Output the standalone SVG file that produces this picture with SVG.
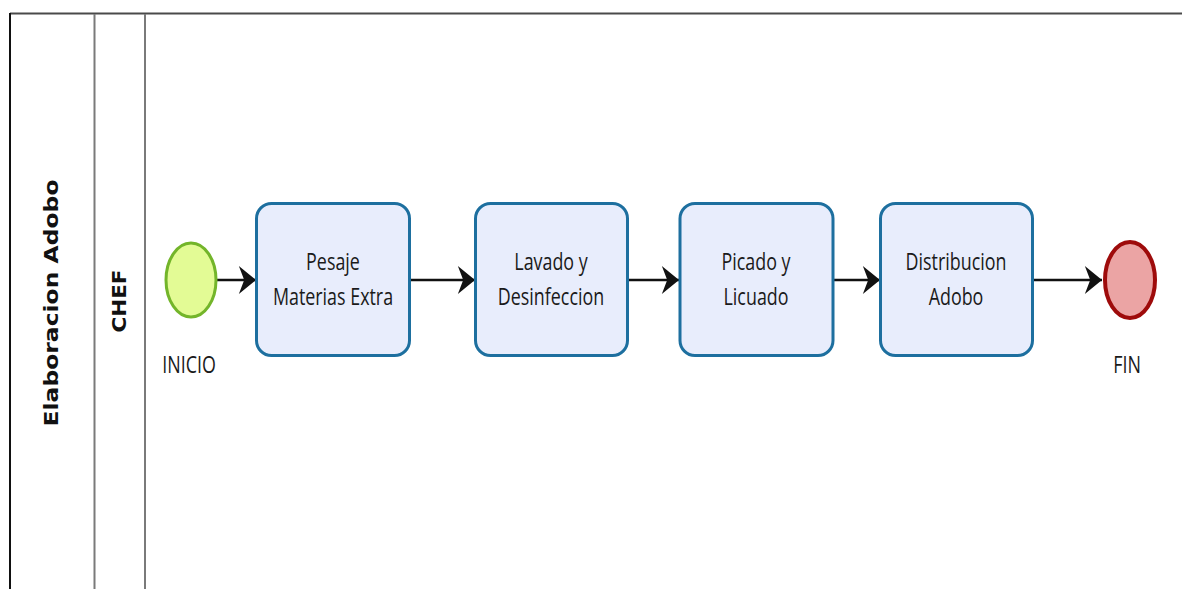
<svg xmlns="http://www.w3.org/2000/svg" width="1182" height="589" viewBox="0 0 1182 589">
  <defs>
    <style>
      .lane-line { stroke: #7a7a7a; stroke-width: 2; fill: none; }
      .task rect { fill: #e8edfc; stroke: #1d6f9f; stroke-width: 3; }
      .label { font-family: "Open Sans", "Liberation Sans", sans-serif; font-size: 24px; fill: #1a1a1a; text-anchor: middle; }
      .lane-title { font-family: "DejaVu Sans", "Liberation Sans", sans-serif; font-weight: bold; font-size: 19px; fill: #111; text-anchor: middle; }
      .flow { stroke: #111; stroke-width: 2.5; fill: none; marker-end: url(#arrow); }
    </style>
    <marker id="arrow" markerUnits="userSpaceOnUse" markerWidth="20" markerHeight="30" viewBox="-17 -14 18 28" refX="0" refY="0" orient="auto">
      <path d="M0,0 L-16,-13 L-11,0 L-16,13 Z" fill="#111"/>
    </marker>
  </defs>

  <rect x="0" y="0" width="1182" height="589" fill="#ffffff"/>

  <!-- pool and lane frame -->
  <g id="pool">
    <line x1="10" y1="13.5" x2="1182" y2="13.5" stroke="#4a4a4a" stroke-width="2"/>
    <line x1="10" y1="13" x2="10" y2="589" stroke="#111" stroke-width="2"/>
    <line x1="94.5" y1="14" x2="94.5" y2="589" class="lane-line"/>
    <line x1="145" y1="14" x2="145" y2="589" class="lane-line"/>
    <text class="lane-title" transform="translate(58,303) rotate(-90)" textLength="247" lengthAdjust="spacingAndGlyphs">Elaboracion Adobo</text>
  </g>
  <g id="lane-chef">
    <text class="lane-title" transform="translate(126,301) rotate(-90)" textLength="63" lengthAdjust="spacingAndGlyphs">CHEF</text>
  </g>

  <!-- connectors -->
  <g id="connectors">
    <line class="flow" x1="217" y1="280" x2="256" y2="280"/>
    <line class="flow" x1="410" y1="280" x2="475" y2="280"/>
    <line class="flow" x1="628" y1="280" x2="679" y2="280"/>
    <line class="flow" x1="833" y1="280" x2="880" y2="280"/>
    <line class="flow" x1="1033" y1="280" x2="1102" y2="280"/>
  </g>

  <!-- start event -->
  <g id="inicio">
    <ellipse cx="191" cy="280" rx="25" ry="37" fill="#e3fb95" stroke="#73b52a" stroke-width="3"/>
    <text class="label" transform="translate(189,373) scale(0.745,1)">INICIO</text>
  </g>

  <!-- tasks -->
  <g id="pesaje" class="task">
    <rect x="256.5" y="203.5" width="153" height="152" rx="15"/>
    <text class="label" transform="translate(333,270) scale(0.745,1)">Pesaje</text>
    <text class="label" transform="translate(333,305) scale(0.745,1)">Materias Extra</text>
  </g>
  <g id="lavado" class="task">
    <rect x="475.5" y="203.5" width="152" height="152" rx="15"/>
    <text class="label" transform="translate(551,270) scale(0.745,1)">Lavado y</text>
    <text class="label" transform="translate(551,305) scale(0.745,1)">Desinfeccion</text>
  </g>
  <g id="picado" class="task">
    <rect x="680" y="203.5" width="153" height="152" rx="15"/>
    <text class="label" transform="translate(756,270) scale(0.745,1)">Picado y</text>
    <text class="label" transform="translate(756,305) scale(0.745,1)">Licuado</text>
  </g>
  <g id="distribucion" class="task">
    <rect x="880.5" y="203.5" width="152" height="152" rx="15"/>
    <text class="label" transform="translate(956,270) scale(0.745,1)">Distribucion</text>
    <text class="label" transform="translate(956,305) scale(0.745,1)">Adobo</text>
  </g>

  <!-- end event -->
  <g id="fin">
    <ellipse cx="1130" cy="280" rx="25" ry="38" fill="#eba4a4" stroke="#9e0b0b" stroke-width="4"/>
    <text class="label" transform="translate(1127,373) scale(0.745,1)">FIN</text>
  </g>
</svg>
